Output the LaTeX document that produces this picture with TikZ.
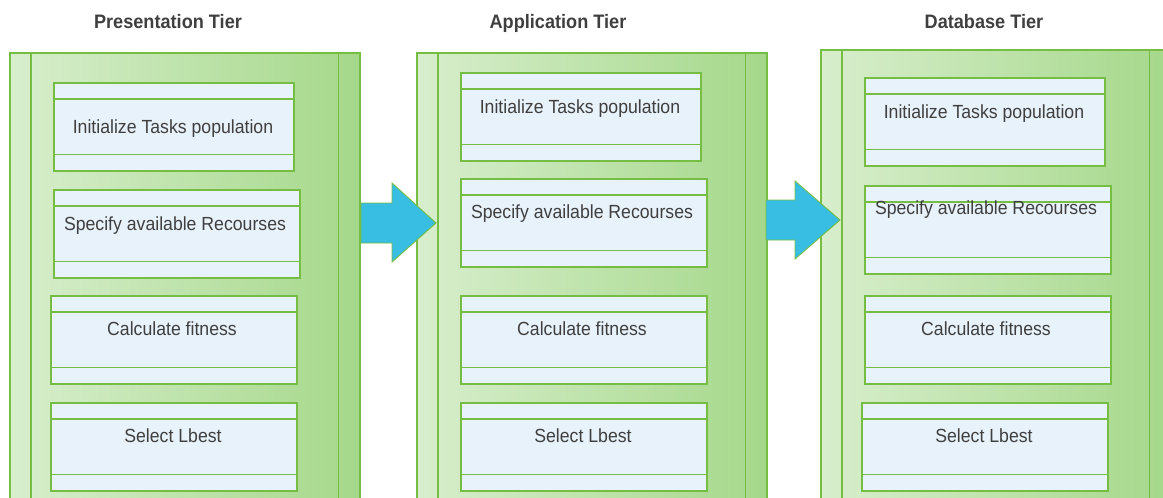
\documentclass[tikz,border=0pt]{standalone}
\usepackage{fontspec}
\setmainfont{Liberation Sans}
\newfontfamily\tierfont[FakeStretch=0.93]{Liberation Sans}
\definecolor{tierlight}{HTML}{D8EECD}
\definecolor{tierdark}{HTML}{A5D88A}
\definecolor{edge}{HTML}{76BE43}
\definecolor{taskfill}{HTML}{E8F2FA}
\definecolor{arrowfill}{HTML}{38BDE3}
\definecolor{ink}{HTML}{3F3F3F}
\begin{document}
\begin{tikzpicture}[x=1pt,y=-1pt,
tier/.style ={rectangle, draw=edge, line width=1.5pt,
  left color=tierlight, right color=tierdark,
  minimum width=350pt, minimum height=470pt, anchor=north west
},
task/.style ={rectangle, draw=edge, line width=1.5pt, fill=taskfill,
  minimum width=246pt, minimum height=88pt, anchor=north west
},
head/.style ={text=ink, anchor=base, inner sep=0pt,
  font=\tierfont\bfseries\fontsize{19.5}{22}\selectfont},
txt/.style ={text=ink, anchor=base, inner sep=0pt,
  font=\tierfont\fontsize{19}{22}\selectfont},
bigarrow/.style ={fill=arrowfill, draw=edge, line width=0.9pt}]
\useasboundingbox (0,0) rectangle (1163,498);
\clip (0,0) rectangle (1163,498);
% tiers
\node (tier1) at (9,52) [tier] {};
\node (tier2) at (416,52) [tier] {};
\node (tier3) at (820,49) [tier] {};
\foreach \t in {tier1,tier2,tier3} {
  \draw[edge, line width=1.5pt] ([xshift=22pt]\t.north west) -- ([xshift=22pt]\t.south west);
  \draw[edge, line width=1.5pt] ([xshift=-22pt]\t.north east) -- ([xshift=-22pt]\t.south east);
}
\node (h1) at (168,28) [head] {Presentation Tier};
\node (h2) at (558,28) [head] {Application Tier};
\node (h3) at (984,28) [head] {Database Tier};
% presentation tier
\node (a1) at (53,82) [task, minimum width=240pt] {};
\node (a2) at (53,189) [task] {};
\node (a3) at (50,295) [task] {};
\node (a4) at (50,402) [task] {};
% application tier
\node (b1) at (460,72) [task, minimum width=240pt] {};
\node (b2) at (460,178) [task] {};
\node (b3) at (460,295) [task] {};
\node (b4) at (460,402) [task] {};
% database tier
\node (c1) at (864,77) [task, minimum width=240pt] {};
\node (c2) at (864,185) [task] {};
\node (c3) at (864,295) [task] {};
\node (c4) at (861,402) [task] {};
\foreach \b in {a1,a2,a3,a4,b1,b2,b3,b4,c1,c2,c3,c4} {
  \draw[edge, line width=1.5pt] ([yshift=-17pt]\b.north west) -- ([yshift=-17pt]\b.north east);
  \draw[edge, line width=1.5pt] ([yshift=17pt]\b.south west) -- ([yshift=17pt]\b.south east);
}
\node (ta1) at (173,133) [txt] {Initialize Tasks population};
\node (ta2) at (175,230) [txt] {Specify available Recourses};
\node (ta3) at (172,335) [txt] {Calculate fitness};
\node (ta4) at (173,442) [txt] {Select Lbest};
\node (tb1) at (580,113) [txt] {Initialize Tasks population};
\node (tb2) at (582,218) [txt] {Specify available Recourses};
\node (tb3) at (582,335) [txt] {Calculate fitness};
\node (tb4) at (583,442) [txt] {Select Lbest};
\node (tc1) at (984,118) [txt] {Initialize Tasks population};
\node (tc2) at (986,214) [txt] {Specify available Recourses};
\node (tc3) at (986,335) [txt] {Calculate fitness};
\node (tc4) at (984,442) [txt] {Select Lbest};
% arrows between tiers
\draw[bigarrow] (361,203) -- (392,203) -- (392,183) -- (436,223)
  -- (392,262) -- (392,243) -- (361,243) -- cycle;
\draw[bigarrow] (766,200) -- (795,200) -- (795,181) -- (840,220)
  -- (795,259) -- (795,240) -- (766,240) -- cycle;
\end{tikzpicture}
\end{document}
